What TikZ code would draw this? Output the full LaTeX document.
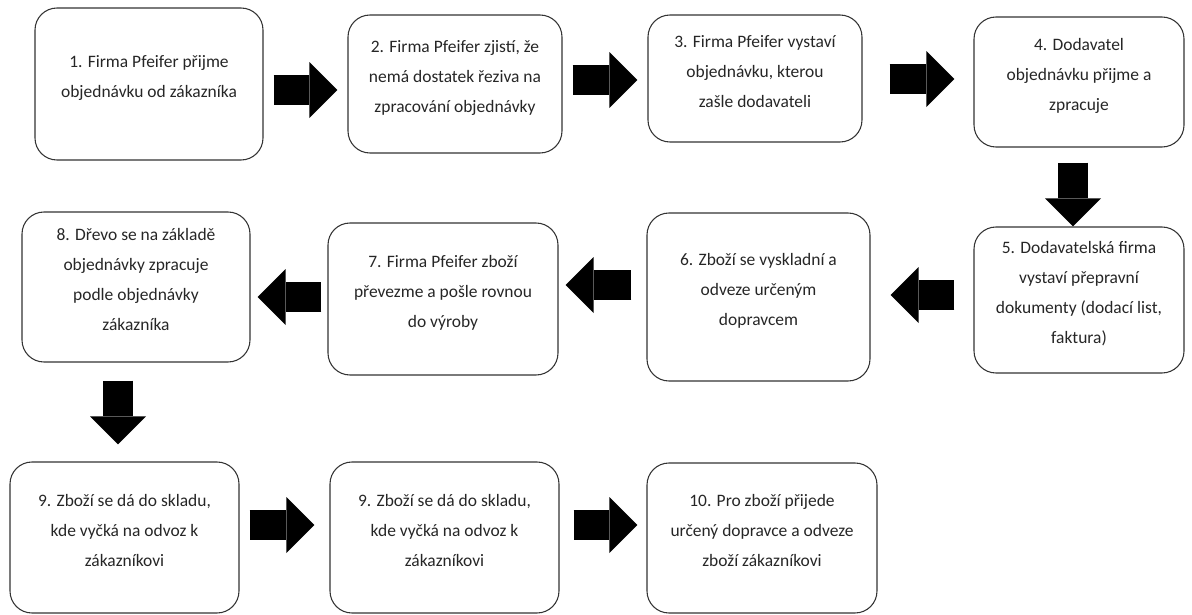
\documentclass[tikz,border=0pt]{standalone}
\usepackage{fontspec}
\setmainfont{Carlito}
\usetikzlibrary{arrows.meta}

\begin{document}
\begin{tikzpicture}[x=0.75pt,y=-0.75pt,
    stage node/.style={draw=black!80,line width=0.8pt,rounded corners=16.5pt,align=center,text=black!85,text depth=11pt,font=\fontsize{13.1}{22.5}\selectfont},
    fat arrow/.style={line width=22.5pt,-{Triangle[width=42pt,length=21pt,line width=0pt]}}]
    \useasboundingbox (0,0) rectangle (1192,614);

    \node[stage node, minimum width=171pt, minimum height=114pt] (s1) at (149,84) {1. Firma Pfeifer přijme\\objednávku od zákazníka};
    \node[stage node, minimum width=160.5pt, minimum height=103.5pt] (s2) at (455,84) {2. Firma Pfeifer zjistí, že\\nemá dostatek řeziva na\\zpracování objednávky};
    \node[stage node, minimum width=160.5pt, minimum height=95.25pt] (s3) at (755,78.5) {3. Firma Pfeifer vystaví\\objednávku, kterou\\zašle dodavateli};
    \node[stage node, minimum width=157.5pt, minimum height=97.5pt] (s4) at (1079,82) {4. Dodavatel\\objednávku přijme a\\zpracuje};
    \node[stage node, minimum width=157.5pt, minimum height=109.5pt] (s5) at (1079,300) {5. Dodavatelská firma\\vystaví přepravní\\dokumenty (dodací list,\\faktura)};
    \node[stage node, minimum width=167.25pt, minimum height=126pt] (s6) at (758.5,297) {6. Zboží se vyskladní a\\odveze určeným\\dopravcem};
    \node[stage node, minimum width=172.5pt, minimum height=114pt] (s7) at (443,299) {7. Firma Pfeifer zboží\\převezme a pošle rovnou\\do výroby};
    \node[stage node, minimum width=171pt, minimum height=112.5pt] (s8) at (136,287) {8. Dřevo se na základě\\objednávky zpracuje\\podle objednávky\\zákazníka};
    \node[stage node, minimum width=171.75pt, minimum height=113.25pt] (s9) at (124.5,537.5) {9. Zboží se dá do skladu,\\kde vyčká na odvoz k\\zákazníkovi};
    \node[stage node, minimum width=171.75pt, minimum height=113.25pt] (s9b) at (444.5,537.5) {9. Zboží se dá do skladu,\\kde vyčká na odvoz k\\zákazníkovi};
    \node[stage node, minimum width=172.5pt, minimum height=112.5pt] (s10) at (762,538) {10. Pro zboží přijede\\určený dopravce a odveze\\zboží zákazníkovi};

    \draw[fat arrow, shorten <=7.5pt, shorten >=7.5pt] ([yshift=-4.5pt]s1.east) -- ([yshift=-4.5pt]s2.west);
    \draw[fat arrow, shorten <=7.5pt, shorten >=7.5pt] ([yshift=3pt]s2.east) -- ([yshift=-1.125pt]s3.west);
    \draw[fat arrow, shorten <=20.25pt, shorten >=14.25pt] ([yshift=-0.375pt]s3.east) -- ([yshift=2.25pt]s4.west);
    \draw[fat arrow, shorten <=11.25pt] ([xshift=-4.5pt]s4.south) -- ([xshift=-4.5pt]s5.north);
    \draw[fat arrow, shorten <=14.25pt, shorten >=15pt] ([yshift=3.75pt]s5.west) -- ([yshift=1.5pt]s6.east);
    \draw[fat arrow, shorten <=11.25pt, shorten >=5.25pt] ([yshift=9pt]s6.west) -- ([yshift=10.5pt]s7.east);
    \draw[fat arrow, shorten <=4.5pt, shorten >=5.25pt] ([yshift=1.5pt]s7.west) -- ([yshift=-7.5pt]s8.east);
    \draw[fat arrow, shorten <=13.5pt, shorten >=12.75pt] ([xshift=-13.5pt]s8.south) -- ([xshift=-4.875pt]s9.north);
    \draw[fat arrow, shorten <=7.5pt, shorten >=11.25pt] ([yshift=9.375pt]s9.east) -- ([yshift=9.375pt]s9b.west);
    \draw[fat arrow, shorten <=10.5pt, shorten >=6.75pt] ([yshift=9.375pt]s9b.east) -- ([yshift=9.75pt]s10.west);
\end{tikzpicture}
\end{document}
